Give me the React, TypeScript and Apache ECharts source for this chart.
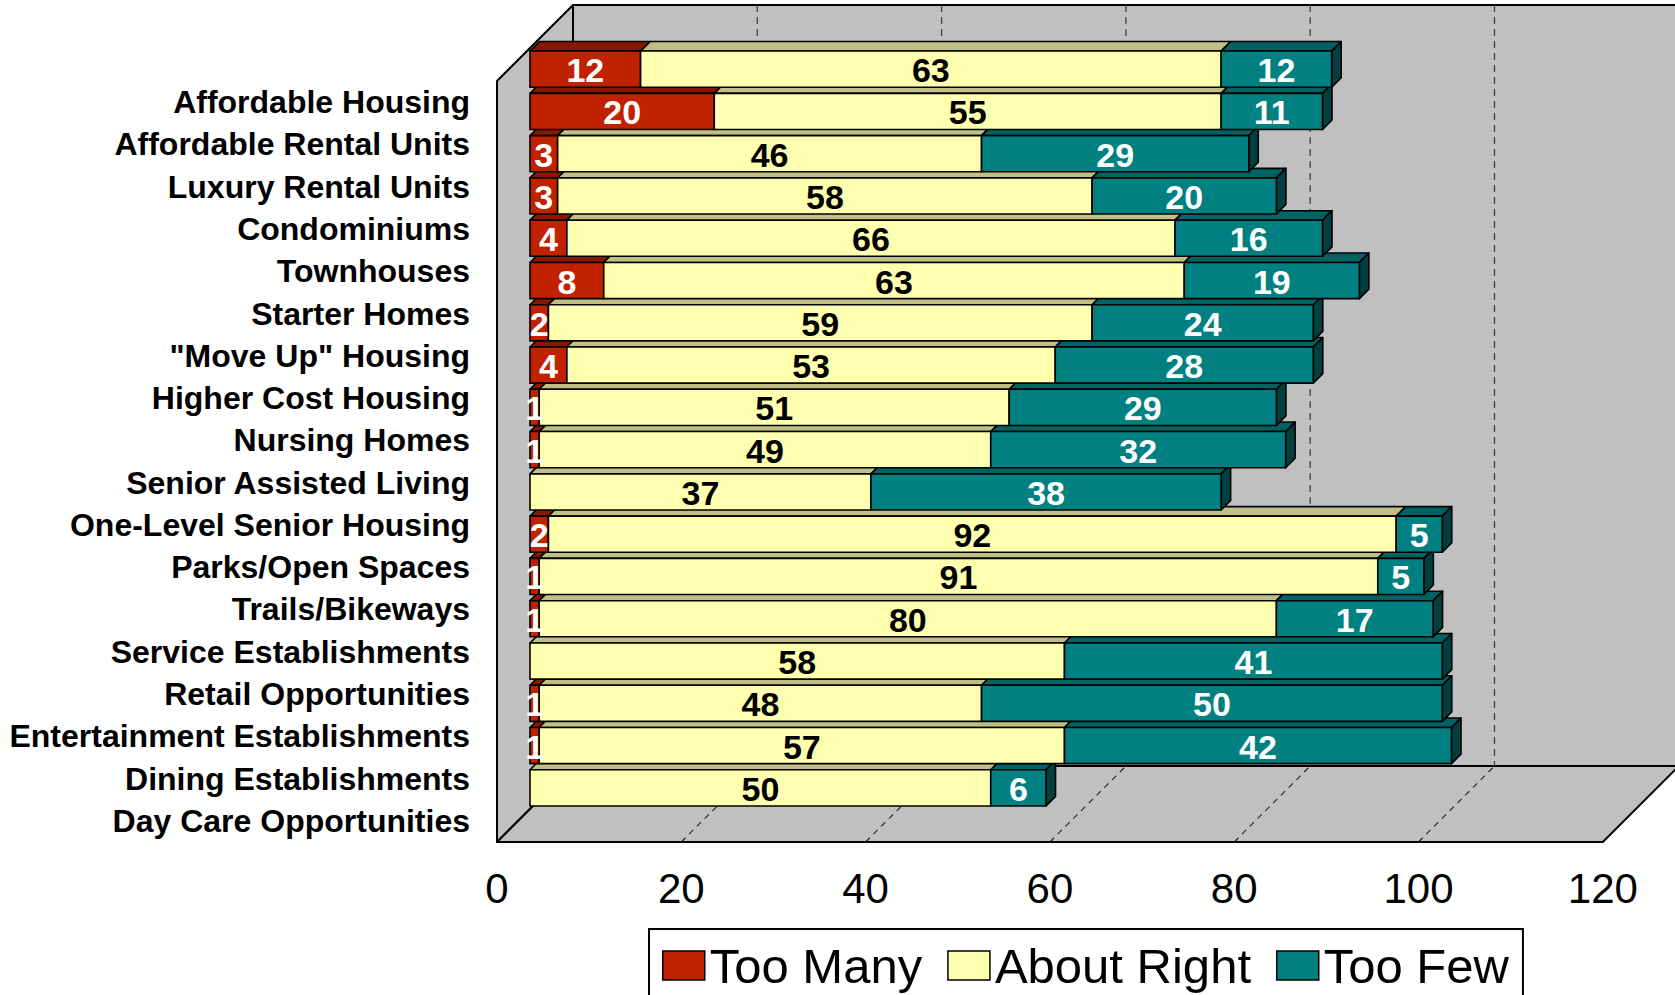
import React, { useEffect, useRef } from "react";
import * as echarts from "echarts";

const categories = [
  "Affordable Housing",
  "Affordable Rental Units",
  "Luxury Rental Units",
  "Condominiums",
  "Townhouses",
  "Starter Homes",
  "\"Move Up\" Housing",
  "Higher Cost Housing",
  "Nursing Homes",
  "Senior Assisted Living",
  "One-Level Senior Housing",
  "Parks/Open Spaces",
  "Trails/Bikeways",
  "Service Establishments",
  "Retail Opportunities",
  "Entertainment Establishments",
  "Dining Establishments",
  "Day Care Opportunities",
];

const tooMany = [12, 20, 3, 3, 4, 8, 2, 4, 1, 1, 0, 2, 1, 1, 0, 1, 1, 0];
const aboutRight = [63, 55, 46, 58, 66, 63, 59, 53, 51, 49, 37, 92, 91, 80, 58, 48, 57, 50];
const tooFew = [12, 11, 29, 20, 16, 19, 24, 28, 29, 32, 38, 5, 5, 17, 41, 50, 42, 6];

const seriesNames = ["Too Many", "About Right", "Too Few"];
const xTicks = [0, 20, 40, 60, 80, 100, 120];

// styling
const FRONT = ["#C02200", "#FFFFB0", "#008080"];
const TOP = ["#8A1800", "#C0C084", "#006262"];
const SIDE = ["#6A1200", "#A0A070", "#004040"];
const LABEL = ["#FFFFFF", "#000000", "#FFFFFF"];
const WALL = "#C0C0C0";

// geometry (front plane grid + oblique depth offsets)
const GRID_LEFT = 497;
const GRID_TOP = 81;
const PLOT_W = 1105.8;
const PLOT_H = 761;
const WALL_DEPTH = 76;
const BAR_OFF = 33;
const BAR_DEPTH = 9.5;
const BAR_FILL = 0.855;

export default function App() {
  const ref = useRef<HTMLDivElement>(null);

  useEffect(() => {
    if (!ref.current) return;
    const chart = echarts.init(ref.current, undefined, { renderer: "svg" });

    const all = [tooMany, aboutRight, tooFew];
    const n = categories.length;
    const lastSeries: number[] = categories.map((_, c) => {
      let last = -1;
      all.forEach((arr, k) => {
        if (arr[c] > 0) last = k;
      });
      return last;
    });

    const barSeries = all.map((arr, k) => {
      const data = arr.map((v, c) => {
        let start = 0;
        for (let j = 0; j < k; j++) start += all[j][c];
        return [start, start + v, c, v];
      });
      return {
        type: "custom",
        name: seriesNames[k],
        z: 3,
        itemStyle: { color: FRONT[k], borderColor: "#000" },
        encode: { x: [0, 1], y: 2 },
        data,
        renderItem: (params: any, api: any) => {
          const v = api.value(3);
          if (!v) return { type: "group", children: [] };
          const c = api.value(2);
          const p0 = api.coord([api.value(0), c]);
          const p1 = api.coord([api.value(1), c]);
          const band = api.size([0, 1])[1];
          const h = band * BAR_FILL;
          const x0 = p0[0] + BAR_OFF;
          const x1 = p1[0] + BAR_OFF;
          const cy = p0[1] - BAR_OFF;
          const top = cy - h / 2;
          const bot = cy + h / 2;
          const D = BAR_DEPTH;
          const children: any[] = [
            {
              type: "polygon",
              shape: { points: [[x0, top], [x0 + D, top - D], [x1 + D, top - D], [x1, top]] },
              style: { fill: TOP[k], stroke: "#000", lineWidth: 1.6, lineJoin: "round" },
              z2: 100,
            },
            {
              type: "rect",
              shape: { x: x0, y: top, width: x1 - x0, height: h },
              style: { fill: FRONT[k], stroke: "#000", lineWidth: 1.6 },
              z2: 300,
            },
            {
              type: "text",
              x: (x0 + x1) / 2,
              y: cy + 1,
              style: {
                text: String(v),
                fill: LABEL[k],
                fontSize: 34,
                fontWeight: "bold",
                fontFamily: "Liberation Sans",
                align: "center",
                verticalAlign: "middle",
              },
              z2: 400,
            },
          ];
          if (lastSeries[c] === k) {
            children.push({
              type: "polygon",
              shape: { points: [[x1, top], [x1 + D, top - D], [x1 + D, bot - D], [x1, bot]] },
              style: { fill: SIDE[k], stroke: "#000", lineWidth: 1.6, lineJoin: "round" },
              z2: 200 + (n - c),
            });
          }
          return { type: "group", children };
        },
      };
    });

    const frameSeries = {
      type: "custom",
      name: "frame",
      z: 1,
      silent: true,
      encode: { x: 0, y: 1 },
      data: xTicks.map((t) => [t, 0]),
      renderItem: (params: any, api: any) => {
        const cs = params.coordSys;
        const t = api.value(0);
        const px = api.coord([t, 0])[0];
        const yTop = cs.y;
        const yBot = cs.y + cs.height;
        const W = WALL_DEPTH;
        const children: any[] = [];
        if (params.dataIndex === 0) {
          children.push(
            {
              type: "rect",
              shape: { x: cs.x + W, y: yTop - W, width: cs.width, height: cs.height },
              style: { fill: WALL, stroke: "#000", lineWidth: 2 },
              z2: 0,
            },
            {
              type: "polygon",
              shape: {
                points: [[cs.x, yTop], [cs.x + W, yTop - W], [cs.x + W, yBot - W], [cs.x, yBot]],
              },
              style: { fill: WALL, stroke: "#000", lineWidth: 2, lineJoin: "round" },
              z2: 1,
            },
            {
              type: "polygon",
              shape: {
                points: [
                  [cs.x, yBot],
                  [cs.x + cs.width, yBot],
                  [cs.x + cs.width + W, yBot - W],
                  [cs.x + W, yBot - W],
                ],
              },
              style: { fill: WALL, stroke: "#000", lineWidth: 2, lineJoin: "round" },
              z2: 1,
            }
          );
        }
        if (t > 0 && t < 120) {
          children.push(
            {
              type: "line",
              shape: { x1: px + W, y1: yTop - W, x2: px + W, y2: yBot - W },
              style: { stroke: "#444", lineWidth: 1.3, lineDash: [7, 5] },
              z2: 2,
            },
            {
              type: "line",
              shape: { x1: px, y1: yBot, x2: px + W, y2: yBot - W },
              style: { stroke: "#222", lineWidth: 1.1, lineDash: [6, 5] },
              z2: 2,
            }
          );
        }
        return { type: "group", children };
      },
    };

    const option: any = {
      animation: false,
      backgroundColor: "#FFFFFF",
      textStyle: { fontFamily: "Liberation Sans" },
      grid: {
        left: GRID_LEFT,
        top: GRID_TOP,
        width: PLOT_W,
        height: PLOT_H,
        containLabel: false,
      },
      xAxis: {
        type: "value",
        min: 0,
        max: 120,
        interval: 20,
        axisLine: { show: false },
        axisTick: { show: false },
        splitLine: { show: false },
        axisLabel: {
          fontSize: 42,
          color: "#000",
          fontFamily: "Liberation Sans",
          margin: 25,
        },
      },
      yAxis: {
        type: "category",
        inverse: true,
        data: categories,
        axisLine: { show: false },
        axisTick: { show: false },
        splitLine: { show: false },
        axisLabel: {
          interval: 0,
          fontSize: 32,
          fontWeight: "bold",
          color: "#000",
          fontFamily: "Liberation Sans",
          margin: 27,
        },
      },
      legend: {
        data: seriesNames,
        left: 649,
        top: 929,
        orient: "horizontal",
        icon: "rect",
        itemWidth: 42,
        itemHeight: 29,
        itemGap: 25,
        padding: [12, 14, 12, 13],
        borderColor: "#000",
        borderWidth: 2,
        backgroundColor: "#FFFFFF",
        itemStyle: { borderColor: "#000", borderWidth: 1.5 },
        textStyle: { fontSize: 49, color: "#000", fontFamily: "Liberation Sans" },
      },
      series: [frameSeries, ...barSeries],
    };

    chart.setOption(option);
    return () => chart.dispose();
  }, []);

  return (
    <div
      ref={ref}
      style={{ position: "absolute", left: 0, top: 0, width: 1675, height: 995 }}
    />
  );
}
